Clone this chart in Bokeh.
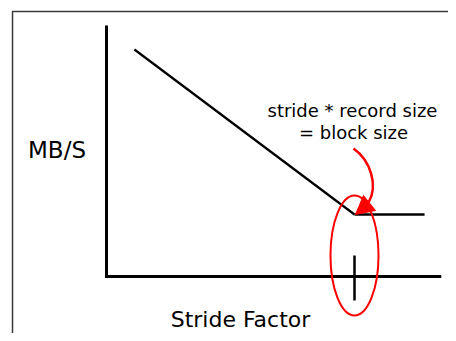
from bokeh.plotting import figure
from bokeh.models import Range1d
from bokeh.core.properties import value
from bokeh.embed import file_html
from bokeh.resources import INLINE

# ---- data (conceptual chart: MB/s versus stride factor) ----
stride_factor = [0.9, 8.0, 10.26]
mb_per_s = [11.35, 3.1, 3.1]

block_stride = 8.0            # stride where stride * record size = block size
x_axis_end = 10.8
y_axis_end = 12.55
tick_span = [1.05, -1.2]

y_label = "MB/S"
x_label = "Stride Factor"
note_lines = ["stride * record size", "= block size"]

# annotation: ellipse around the knee, curved arrow pointing at it
ellipse_center_y = 1.05
ellipse_w, ellipse_h = 1.55, 6.0
arrow_start = (7.968, 6.4)
arrow_cp0 = (8.516, 5.8)
arrow_cp1 = (8.774, 4.55)
arrow_end = (8.452, 3.7)
arrow_head_x = [8.032, 8.290, 8.677]
arrow_head_y = [3.1, 4.05, 3.3]

# frame border (top-left corner, runs off the page to the right and bottom)
border_x = [-3.032, -3.032, 20.0]
border_y = [-10.0, 13.25, 13.25]

FONT = value("DejaVu Sans")

p = figure(width=448, height=333, output_backend="svg", toolbar_location=None,
           x_range=Range1d(-106 / 31, 342 / 31), y_range=Range1d(-57 / 20, 276 / 20),
           min_border=0, outline_line_color=None)
p.axis.visible = False
p.grid.visible = False
p.background_fill_color = "white"
p.border_fill_color = "white"

# outer border
p.line(border_x, border_y, line_color="#3a3a3a", line_width=1.5)

# axes drawn as thick lines
p.line([0, 0], [0, y_axis_end], line_color="black", line_width=3)
p.line([-0.05, x_axis_end], [0, 0], line_color="black", line_width=3)

# tick at block size
p.line([block_stride, block_stride], tick_span, line_color="black", line_width=2.5)

# data line
p.line(stride_factor[:2], mb_per_s[:2], line_color="black", line_width=2.2)
p.line(stride_factor[1:], mb_per_s[1:], line_color="black", line_width=2.5)

# labels
p.text(x=[-1.597], y=[6.35], text=[y_label], text_font=FONT, text_font_size="23px",
       text_align="center", text_baseline="alphabetic", text_color="black")
p.text(x=[4.323], y=[-2.15], text=[x_label], text_font=FONT, text_font_size="22px",
       text_align="center", text_baseline="alphabetic", text_color="black")
p.text(x=[7.935, 7.968], y=[8.3, 7.2], text=note_lines, text_font=FONT,
       text_font_size="18px", text_align="center", text_baseline="alphabetic",
       text_color="black")

# red annotations
p.ellipse(x=[block_stride], y=[ellipse_center_y], width=ellipse_w, height=ellipse_h,
          fill_color=None, line_color="red", line_width=2)
p.bezier(x0=[arrow_start[0]], y0=[arrow_start[1]], x1=[arrow_end[0]], y1=[arrow_end[1]],
         cx0=[arrow_cp0[0]], cy0=[arrow_cp0[1]], cx1=[arrow_cp1[0]], cy1=[arrow_cp1[1]],
         line_color="red", line_width=2.5)
p.patch(arrow_head_x, arrow_head_y, fill_color="red", line_color="red", line_width=1)

open("out.html", "w").write(file_html(p, INLINE))
